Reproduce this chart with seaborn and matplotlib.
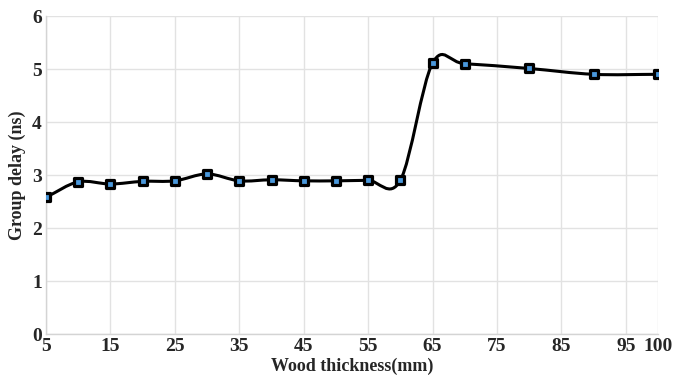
import numpy as np
import pandas as pd
import matplotlib
matplotlib.use("Agg")
import matplotlib.pyplot as plt
from matplotlib.path import Path
from matplotlib.patches import PathPatch
import seaborn as sns

# Measured group delay versus wood thickness
thickness_mm = [5, 10, 15, 20, 25, 30, 35, 40, 45, 50, 55, 60, 65, 70, 80, 90, 100]
group_delay_ns = [2.58, 2.87, 2.83, 2.88, 2.89, 3.02, 2.89, 2.91, 2.89, 2.89, 2.90, 2.90,
                  5.11, 5.10, 5.01, 4.90, 4.90]
x_ticks = [5, 15, 25, 35, 45, 55, 65, 75, 85, 95, 100]
y_ticks = [0, 1, 2, 3, 4, 5, 6]

df = pd.DataFrame({"thickness": thickness_mm, "delay": group_delay_ns})

sns.set_theme(style="white")
plt.rcParams["font.family"] = ["Liberation Serif", "DejaVu Serif"]

fig = plt.figure(figsize=(6.91, 3.76), dpi=100)
ax = fig.add_axes([0.0666, 0.1117, 0.8857, 0.8457])

# Smoothed connecting curve (Catmull-Rom segments as cubic Beziers,
# end tangents taken from reflected neighbours)
pts = np.column_stack([df["thickness"].to_numpy(float), df["delay"].to_numpy(float)])
n = len(pts)
verts = [tuple(pts[0])]
codes = [Path.MOVETO]
for i in range(n - 1):
    p1 = pts[i]
    p2 = pts[i + 1]
    p0 = pts[i - 1] if i > 0 else 2 * p1 - p2
    p3 = pts[i + 2] if i + 2 < n else 2 * p2 - p1
    c1 = p1 + (p2 - p0) / 6.0
    c2 = p2 - (p3 - p1) / 6.0
    verts += [tuple(c1), tuple(c2), tuple(p2)]
    codes += [Path.CURVE4, Path.CURVE4, Path.CURVE4]
ax.add_patch(PathPatch(Path(verts, codes), facecolor="none", edgecolor="black",
                       linewidth=2.2, zorder=3))

sns.scatterplot(data=df, x="thickness", y="delay", marker="s", s=40,
                color="#4a98dc", edgecolor="black", linewidth=2.3, zorder=4,
                ax=ax, legend=False)

ax.set_xlim(5, 100)
ax.set_ylim(0, 6)
ax.set_xticks(x_ticks)
ax.set_yticks(y_ticks)
ax.grid(True, color="#e2e2e2", linewidth=1.0)
ax.set_axisbelow(True)
for side in ["top", "right"]:
    ax.spines[side].set_visible(False)
for side in ["left", "bottom"]:
    ax.spines[side].set_color("#d4d4d4")
    ax.spines[side].set_linewidth(1.0)
ax.tick_params(axis="both", length=0, labelsize=14, pad=3)
for lbl in ax.get_xticklabels() + ax.get_yticklabels():
    lbl.set_fontweight("bold")
ax.set_xlabel("Wood thickness(mm)", fontsize=13, fontweight="bold", labelpad=1.5)
ax.set_ylabel("Group delay (ns)", fontsize=13, fontweight="bold", labelpad=4)

fig.savefig("out.png", dpi=100)
